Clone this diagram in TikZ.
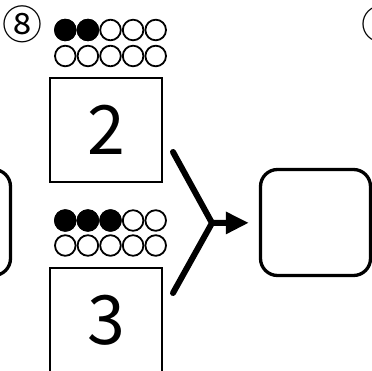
\documentclass[tikz,border=0pt]{standalone}
\usepackage{fontspec}
\setmainfont{Noto Sans CJK JP}
\usetikzlibrary{arrows.meta}

\begin{document}
\begin{tikzpicture}[x=1pt, y=-1pt,
    box/.style = {draw, line width=2pt, minimum width=112pt, minimum height=104pt, inner sep=0pt, font=\fontsize{68}{68}\selectfont},
    ans/.style = {draw, line width=3.3pt, rounded corners=17pt, minimum width=110pt, minimum height=106pt},
    dot/.style = {draw, circle, line width=1.8pt, minimum size=20.6pt, inner sep=0pt},
    num/.style = {inner sep=0pt, font=\fontsize{40}{40}\selectfont}]
        \useasboundingbox (0,0) rectangle (372,371);
        \node[num] (no8) at (22,24) {⑧};
        \node[num] (no9) at (381,24) {⑨};
        \foreach \i in {0,...,4} {
            \node[dot] (ta\i) at (65.3+22.6*\i, 30) {};
            \node[dot] (tb\i) at (65.3+22.6*\i, 56) {};
            \node[dot] (ba\i) at (65.3+22.6*\i, 220.5) {};
            \node[dot] (bb\i) at (65.3+22.6*\i, 245.5) {};
        }
        \foreach \i in {0,1} \node[dot, fill=black] at (ta\i) {};
        \foreach \i in {0,1,2} \node[dot, fill=black] at (ba\i) {};
        \node[box] (two) at (106,130) {2};
        \node[box] (three) at (106,320) {3};
        \node[ans] (prev) at (-44.5,222.5) {};
        \node[ans] (sum) at (315.5,222.5) {};
        \coordinate (up) at (173,152);
        \coordinate (lo) at (173,293);
        \coordinate (mid) at (212,223);
        \draw [line width=6pt, line cap=round] (up) -- (mid) -- (lo);
        \draw [-{Triangle[length=23pt, width=21pt]}, line width=6pt, shorten >=10pt] (mid) -- (sum);
    \end{tikzpicture}
\end{document}
